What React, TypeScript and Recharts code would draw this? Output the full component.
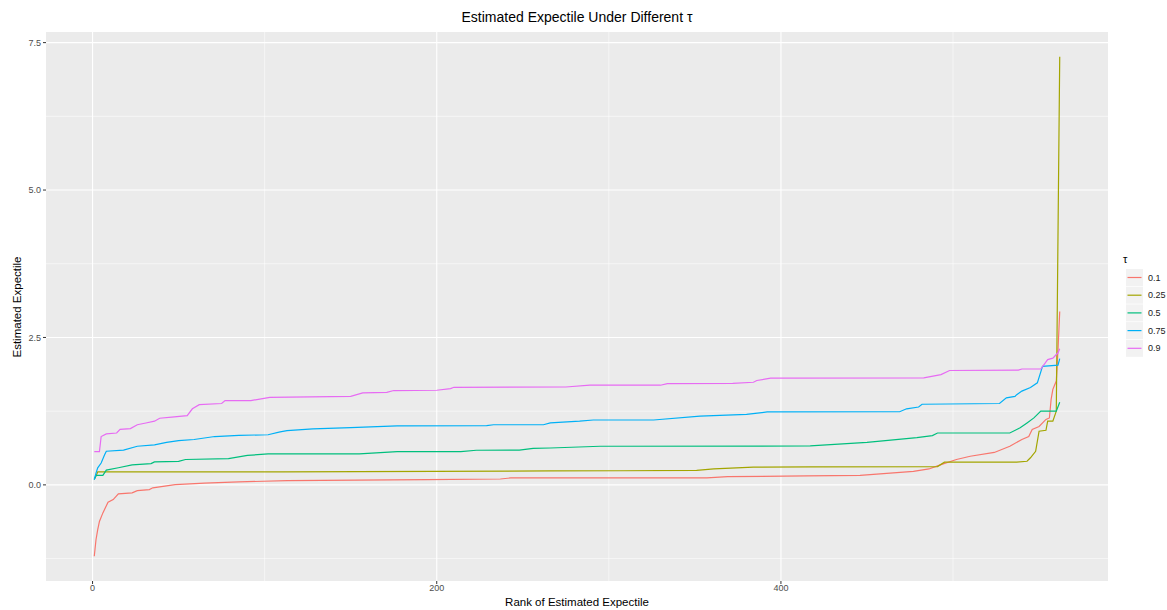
import { CartesianGrid, Line, LineChart, XAxis, YAxis } from 'recharts'

// tau levels and ggplot default hue colours
const tauLevels = ['0.1', '0.25', '0.5', '0.75', '0.9']
const tauColors = ['#F8766D', '#A3A500', '#00BF7D', '#00B0F6', '#E76BF3']

// rank -> estimated expectile, one pair of arrays per tau
const rank01 = [1, 2, 3, 4, 6, 9, 12, 15, 23, 26, 33, 35, 48, 65, 85, 113, 194, 237, 243, 357, 369, 415, 446, 477, 486, 493, 502, 510, 524, 533, 540, 544, 546, 550, 554, 556, 557, 558, 560, 561, 562]
const value01 = [-1.21, -0.93, -0.76, -0.62, -0.475, -0.295, -0.25, -0.153, -0.135, -0.097, -0.08, -0.05, 0.005, 0.03, 0.05, 0.073, 0.09, 0.1, 0.118, 0.12, 0.14, 0.152, 0.16, 0.23, 0.27, 0.344, 0.43, 0.485, 0.55, 0.655, 0.77, 0.82, 0.94, 0.99, 1.11, 1.135, 1.45, 1.62, 1.76, 2.29, 2.94]

const rank025 = [1, 2, 3, 110, 266, 307, 351, 361, 384, 417, 491, 495, 537, 543, 545, 548, 550, 554, 555, 558, 560, 562]
const value025 = [0.1, 0.15, 0.22, 0.22, 0.237, 0.24, 0.245, 0.27, 0.3, 0.305, 0.31, 0.385, 0.385, 0.4, 0.46, 0.57, 0.91, 0.925, 1.08, 1.08, 1.25, 7.26]

const rank05 = [1, 2, 6, 8, 15, 23, 34, 36, 50, 54, 79, 90, 102, 155, 177, 214, 223, 248, 256, 266, 295, 417, 450, 479, 488, 491, 533, 539, 543, 547, 551, 560, 562]
const value05 = [0.09, 0.16, 0.16, 0.25, 0.29, 0.34, 0.36, 0.39, 0.4, 0.43, 0.445, 0.5, 0.525, 0.525, 0.565, 0.565, 0.587, 0.59, 0.62, 0.625, 0.655, 0.66, 0.72, 0.8, 0.836, 0.88, 0.88, 0.967, 1.05, 1.136, 1.25, 1.25, 1.4]

const rank075 = [1, 2, 3, 5, 7, 8, 18, 26, 36, 43, 50, 59, 71, 85, 102, 109, 113, 128, 150, 177, 229, 233, 262, 266, 283, 291, 326, 353, 380, 392, 469, 473, 480, 482, 527, 531, 536, 537, 540, 545, 549, 552, 561, 562]
const value075 = [0.09, 0.2, 0.29, 0.37, 0.51, 0.57, 0.59, 0.655, 0.68, 0.72, 0.75, 0.77, 0.82, 0.84, 0.85, 0.9, 0.92, 0.95, 0.97, 1.0, 1.005, 1.02, 1.02, 1.05, 1.08, 1.1, 1.1, 1.165, 1.197, 1.237, 1.24, 1.29, 1.32, 1.367, 1.38, 1.475, 1.5, 1.53, 1.59, 1.65, 1.73, 2.01, 2.03, 2.14]

const rank09 = [1, 4, 5, 8, 14, 16, 22, 26, 31, 36, 39, 46, 55, 58, 62, 75, 77, 92, 103, 150, 157, 171, 175, 200, 208, 210, 275, 289, 330, 334, 372, 384, 386, 394, 483, 493, 498, 538, 540, 551, 555, 558, 561, 562]
const value09 = [0.565, 0.565, 0.82, 0.865, 0.88, 0.94, 0.955, 1.02, 1.05, 1.08, 1.13, 1.15, 1.175, 1.29, 1.36, 1.38, 1.43, 1.43, 1.485, 1.5, 1.56, 1.57, 1.6, 1.605, 1.633, 1.655, 1.66, 1.69, 1.69, 1.717, 1.72, 1.74, 1.77, 1.81, 1.815, 1.87, 1.94, 1.945, 1.965, 1.965, 2.125, 2.15, 2.24, 2.31]

const xTicks = [0, 200, 400]
const xMinor = [100, 300, 500]
const yTicks = [0, 2.5, 5, 7.5]
const yMinor = [-1.25, 1.25, 3.75, 6.25]

const ranks = [rank01, rank025, rank05, rank075, rank09]
const values = [value01, value025, value05, value075, value09]

const series = tauLevels.map((name, i) => ({
  name,
  color: tauColors[i],
  data: ranks[i].map((r, j) => ({ rank: r, value: values[i][j] })),
}))

const font = '"Liberation Sans", Arial, Helvetica, sans-serif'

function TauLegend() {
  return (
    <svg
      width={50}
      height={110}
      style={{ position: 'absolute', left: 1120, top: 250 }}
      fontFamily={font}
    >
      <text x={3} y={13} fontSize={11} fill="#000">
        τ
      </text>
      {series.map((s, i) => {
        const y = 19 + i * 17.7
        return (
          <g key={s.name}>
            <rect x={6} y={y} width={17} height={17} fill="#F2F2F2" />
            <line
              x1={7.5}
              x2={21.5}
              y1={y + 8.5}
              y2={y + 8.5}
              stroke={s.color}
              strokeWidth={1.2}
            />
            <text x={28} y={y + 11.5} fontSize={9} fill="#1A1A1A">
              {s.name}
            </text>
          </g>
        )
      })}
    </svg>
  )
}

export default function App() {
  return (
    <div
      style={{
        position: 'absolute',
        left: 0,
        top: 0,
        width: 1167,
        height: 610,
        background: '#fff',
        fontFamily: font,
      }}
    >
      <LineChart
        width={1167}
        height={610}
        margin={{ top: 32, right: 59, bottom: 0, left: 0 }}
      >
        <CartesianGrid
          fill="#EBEBEB"
          stroke="#FFFFFF"
          strokeWidth={0.55}
          horizontalValues={yMinor}
          verticalValues={xMinor}
        />
        <CartesianGrid
          stroke="#FFFFFF"
          strokeWidth={1.1}
          horizontalValues={yTicks}
          verticalValues={xTicks}
        />
        <XAxis
          dataKey="rank"
          type="number"
          domain={[-27.05, 590.05]}
          ticks={xTicks}
          allowDataOverflow
          height={29}
          axisLine={false}
          tickLine={{ stroke: '#333333' }}
          tickSize={3}
          tickMargin={1}
          tick={{ fill: '#4D4D4D', fontSize: 9, fontFamily: font }}
        />
        <YAxis
          dataKey="value"
          type="number"
          domain={[-1.63, 7.68]}
          ticks={yTicks}
          allowDataOverflow
          width={46}
          axisLine={false}
          tickLine={{ stroke: '#333333' }}
          tickSize={3}
          tickMargin={2}
          tickFormatter={(v: number) => v.toFixed(1)}
          tick={{ fill: '#4D4D4D', fontSize: 9, fontFamily: font }}
        />
        {series.map((s) => (
          <Line
            key={s.name}
            data={s.data}
            dataKey="value"
            name={s.name}
            type="linear"
            stroke={s.color}
            strokeWidth={1.2}
            dot={false}
            activeDot={false}
            isAnimationActive={false}
          />
        ))}
      </LineChart>

      <div
        style={{
          position: 'absolute',
          left: 46,
          width: 1062,
          top: 9,
          textAlign: 'center',
          fontSize: 14,
          lineHeight: '16px',
          color: '#000',
        }}
      >
        Estimated Expectile Under Different τ
      </div>
      <div
        style={{
          position: 'absolute',
          left: 46,
          width: 1062,
          top: 595,
          textAlign: 'center',
          fontSize: 11.5,
          lineHeight: '14px',
          color: '#000',
        }}
      >
        Rank of Estimated Expectile
      </div>
      <div
        style={{
          position: 'absolute',
          left: 17 - 275,
          width: 550,
          top: 306.5 - 7,
          textAlign: 'center',
          fontSize: 11.5,
          lineHeight: '14px',
          color: '#000',
          transform: 'rotate(-90deg)',
          transformOrigin: 'center',
        }}
      >
        Estimated Expectile
      </div>

      <TauLegend />
    </div>
  )
}
